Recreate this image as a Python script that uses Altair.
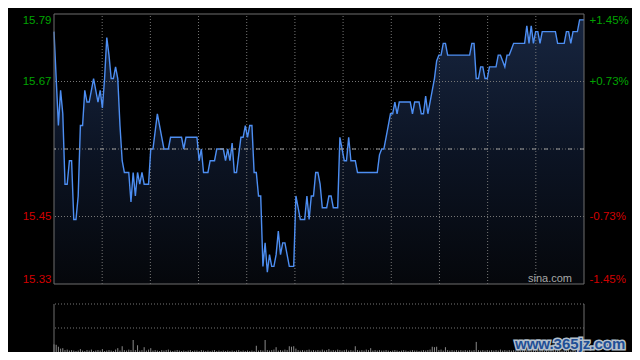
import altair as alt
import pandas as pd

# ---------------- data ----------------
prices = [
    15.76, 15.68, 15.60, 15.66, 15.62, 15.50, 15.50, 15.54, 15.54, 15.44,
    15.44, 15.48, 15.60, 15.60, 15.66, 15.64, 15.64, 15.66, 15.68, 15.66,
    15.64, 15.66, 15.63, 15.68, 15.75, 15.72, 15.68, 15.68, 15.70, 15.68,
    15.60, 15.54, 15.52, 15.52, 15.52, 15.47, 15.52, 15.48, 15.52, 15.50,
    15.52, 15.50, 15.50, 15.50, 15.56, 15.56, 15.59, 15.62, 15.60, 15.58,
    15.56, 15.56, 15.56, 15.58, 15.58, 15.58, 15.58, 15.58, 15.58, 15.56,
    15.58, 15.58, 15.58, 15.58, 15.58, 15.58, 15.54, 15.56, 15.52, 15.52,
    15.52, 15.54, 15.54, 15.54, 15.56, 15.56, 15.56, 15.56, 15.54, 15.56,
    15.54, 15.57, 15.52, 15.52, 15.55, 15.58, 15.58, 15.60, 15.58, 15.60,
    15.60, 15.52, 15.52, 15.48, 15.48, 15.36, 15.40, 15.35, 15.38, 15.36,
    15.36, 15.38, 15.42, 15.38, 15.40, 15.40, 15.38, 15.36, 15.36, 15.36,
    15.48, 15.46, 15.44, 15.44, 15.44, 15.48, 15.44, 15.48, 15.48, 15.52,
    15.52, 15.50, 15.46, 15.46, 15.46, 15.48, 15.48, 15.46, 15.46, 15.46,
    15.58, 15.56, 15.54, 15.54, 15.58, 15.54, 15.54, 15.54, 15.52, 15.52,
    15.52, 15.52, 15.52, 15.52, 15.52, 15.52, 15.52, 15.52, 15.55, 15.56,
    15.56, 15.58, 15.60, 15.62, 15.62, 15.64, 15.62, 15.64, 15.64, 15.64,
    15.64, 15.64, 15.64, 15.62, 15.64, 15.64, 15.64, 15.62, 15.62, 15.65,
    15.62, 15.64, 15.66, 15.68, 15.71, 15.72, 15.72, 15.74, 15.74, 15.72,
    15.72, 15.72, 15.72, 15.72, 15.72, 15.72, 15.72, 15.72, 15.72, 15.72,
    15.74, 15.74, 15.68, 15.68, 15.70, 15.70, 15.68, 15.68, 15.70, 15.70,
    15.70, 15.70, 15.72, 15.72, 15.71, 15.70, 15.72, 15.72, 15.73, 15.74,
    15.74, 15.74, 15.74, 15.74, 15.74, 15.77, 15.74, 15.77, 15.74, 15.76,
    15.76, 15.74, 15.76, 15.76, 15.76, 15.76, 15.76, 15.76, 15.76, 15.74,
    15.74, 15.74, 15.74, 15.76, 15.76, 15.74, 15.76, 15.76, 15.76, 15.78,
    15.78, 15.78,
]

volumes = [
    16, 15, 11, 7, 8, 4, 5, 3, 4, 3,
    2, 3, 6, 3, 2, 4, 3, 5, 2, 3,
    4, 3, 6, 2, 3, 4, 3, 2, 5, 8,
    3, 12, 4, 3, 5, 4, 25, 4, 14, 3,
    4, 10, 3, 5, 8, 3, 4, 3, 2, 4,
    3, 4, 5, 3, 2, 3, 4, 3, 2, 3,
    2, 3, 4, 2, 3, 3, 2, 4, 3, 2,
    3, 2, 3, 4, 2, 3, 2, 3, 2, 3,
    2, 3, 2, 3, 4, 2, 3, 2, 3, 2,
    3, 2, 13, 3, 4, 3, 25, 4, 3, 4,
    5, 10, 3, 4, 3, 5, 4, 12, 11, 12,
    7, 4, 3, 4, 3, 4, 5, 3, 4, 3,
    4, 3, 5, 3, 4, 6, 3, 4, 3, 5,
    4, 3, 4, 5, 3, 4, 3, 12, 4, 3,
    4, 3, 5, 4, 8, 3, 4, 3, 4, 3,
    3, 4, 3, 2, 3, 4, 3, 2, 3, 4,
    3, 2, 3, 4, 3, 3, 2, 3, 4, 3,
    4, 5, 11, 10, 11, 4, 5, 3, 10, 4,
    3, 4, 3, 4, 3, 4, 3, 4, 3, 4,
    3, 4, 21, 4, 3, 4, 3, 4, 3, 4,
    3, 4, 3, 5, 3, 4, 3, 4, 3, 4,
    3, 4, 5, 3, 4, 5, 4, 3, 4, 3,
    4, 3, 4, 3, 4, 3, 4, 3, 4, 3,
    4, 3, 4, 3, 5, 3, 4, 3, 4, 3,
    4, 5,
]

prev_close = 15.56
price_min, price_max = 15.33, 15.79
left_ticks = [15.33, 15.445, 15.675, 15.79]
left_labels = ["15.33", "15.45", "15.67", "15.79"]
right_labels = ["-1.45%", "-0.73%", "+0.73%", "+1.45%"]
grid_prices = [15.445, 15.675]
n_div = 11
vol_max = 100
vol_grid = [50, 100]

# ---------------- styling ----------------
FONT = "Liberation Sans"
GREEN = "#00a400"
RED = "#d20000"
GRID = "#767676"
BORDER = "#6e6e6e"
LINE = "#4d8ef2"

n = len(prices)
last = n - 1
df = pd.DataFrame({"i": list(range(n)), "p": prices, "base": price_min,
                   "v": volumes, "v0": 0})


def label_expr(ticks, labels):
    expr = "'" + labels[-1] + "'"
    for k in range(len(ticks) - 2, -1, -1):
        mid = (ticks[k] + ticks[k + 1]) / 2
        expr = f"datum.value < {mid} ? '{labels[k]}' : ({expr})"
    return expr


color_cond = {"condition": {"test": f"datum.value > {prev_close}", "value": GREEN},
              "value": RED}

left_axis = alt.Axis(orient="left", values=left_ticks,
                     labelExpr=label_expr(left_ticks, left_labels),
                     labelColor=color_cond, labelFont=FONT, labelFontSize=11.5,
                     labelFlush=True, labelPadding=3, ticks=False, domain=False,
                     grid=False, title=None)
right_axis = alt.Axis(orient="right", values=left_ticks,
                      labelExpr=label_expr(left_ticks, right_labels),
                      labelColor=color_cond, labelFont=FONT, labelFontSize=11.5,
                      labelFlush=True, labelPadding=5, ticks=False, domain=False,
                      grid=False, title=None)

W, H = 530, 338
main_scale = alt.Scale(domain=[price_min, price_max], range=[270, 0], nice=False, zero=False)
vol_scale = alt.Scale(domain=[0, vol_max], range=[H, 290], nice=False, zero=False)
xs = alt.Scale(domain=[0, last], nice=False, zero=False)
X = alt.X("i:Q", scale=xs, axis=None)


def YM(f):
    return alt.Y(f"{f}:Q", scale=main_scale, axis=left_axis)


def YV(f):
    return alt.Y(f"{f}:Q", scale=vol_scale, axis=None)


gradient = alt.Gradient(
    gradient="linear",
    stops=[alt.GradientStop(color="#17253f", offset=0),
           alt.GradientStop(color="#0c1424", offset=0.5),
           alt.GradientStop(color="#05070b", offset=1)],
    x1=0, x2=0, y1=0, y2=1)

area = alt.Chart(df).mark_area(color=gradient).encode(x=X, y=YM("p"), y2="base")
line = alt.Chart(df).mark_line(color=LINE, strokeWidth=1.4).encode(x=X, y=YM("p"))

vlines = [last * k / n_div for k in range(1, n_div)]
vgrid_df = pd.DataFrame({"i": vlines, "lo": price_min, "hi": price_max})
vgrid = alt.Chart(vgrid_df).mark_rule(color=GRID, strokeDash=[1, 2]).encode(
    x=X, y=YM("lo"), y2="hi")
hgrid = alt.Chart(pd.DataFrame({"p": grid_prices})).mark_rule(
    color=GRID, strokeDash=[1, 2]).encode(y=YM("p"))
hborder = alt.Chart(pd.DataFrame({"p": [price_min, price_max]})).mark_rule(
    color=BORDER).encode(y=YM("p"))
vborder = alt.Chart(pd.DataFrame({"i": [0, last], "lo": price_min, "hi": price_max})).mark_rule(
    color=BORDER).encode(x=X, y=YM("lo"), y2="hi")

main = alt.layer(area, vgrid, hgrid, line, hborder, vborder)

mid_df = pd.DataFrame({"p": [prev_close]})
YP = alt.Y("p:Q", scale=main_scale, axis=right_axis)
mid1 = alt.Chart(mid_df).mark_rule(color="#6a6a6a", strokeDash=[1, 2]).encode(y=YP)
mid2 = alt.Chart(mid_df).mark_rule(color="#9a9a9a", strokeDash=[4, 8]).encode(y=YP)
pct = alt.layer(mid1, mid2)

vbars = alt.Chart(df).mark_rule(color="#8a8a8a", strokeWidth=1).encode(
    x=X, y=YV("v"), y2="v0")
vgrid2 = alt.Chart(pd.DataFrame({"v": vol_grid})).mark_rule(
    color=GRID, strokeDash=[1, 2]).encode(y=YV("v"))
vborder2 = alt.Chart(pd.DataFrame({"i": [0, last], "lo": 0, "hi": vol_max})).mark_rule(
    color=BORDER).encode(x=X, y=YV("lo"), y2="hi")
vol = alt.layer(vbars, vgrid2, vborder2)

sina = alt.Chart(pd.DataFrame({"t": ["sina.com"]})).mark_text(
    align="right", baseline="alphabetic", font="Liberation Sans", fontSize=11,
    color="#a8a8a8").encode(text="t:N", x=alt.value(518), y=alt.value(268))

wm_df = pd.DataFrame({"t": ["www.365jz.com"]})
wm_back = alt.Chart(wm_df).mark_text(
    align="left", baseline="alphabetic", font="Liberation Sans", fontSize=15,
    fontWeight="bold", stroke="#b4c0cc", strokeWidth=3, color="#b4c0cc").encode(
    text="t:N", x=alt.value(461), y=alt.value(335))
wm_front = alt.Chart(wm_df).mark_text(
    align="left", baseline="alphabetic", font="Liberation Sans", fontSize=15,
    fontWeight="bold", color="#1f4f96").encode(
    text="t:N", x=alt.value(461), y=alt.value(335))

chart = alt.layer(main, pct, vol, sina, wm_back, wm_front).resolve_scale(
    y="independent"
).properties(
    width=W, height=H,
    autosize=alt.AutoSizeParams(type="none"),
    padding={"left": 46, "top": 6, "right": 48, "bottom": 0},
    background="#000000",
).configure_view(stroke=None)

chart.save("out.html", embed_options={"renderer": "svg", "actions": False})
